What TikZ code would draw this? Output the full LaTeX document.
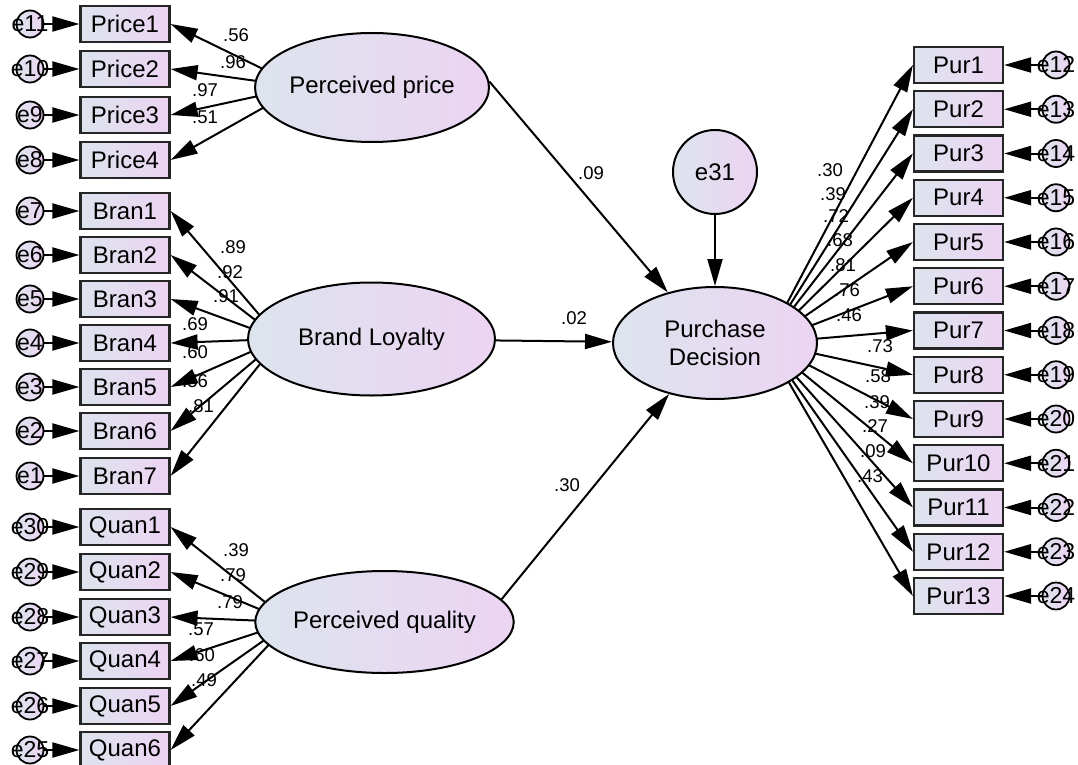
\documentclass[tikz,border=0pt]{standalone}
\usepackage{fontspec}
\setmainfont{Liberation Sans}
\usetikzlibrary{shapes.geometric,arrows.meta,backgrounds}
\definecolor{shL}{RGB}{221,228,237}
\definecolor{shR}{RGB}{236,212,243}
\begin{document}
\begin{tikzpicture}[x=1pt,y=-1pt,
  obs/.style={draw=black!85, line width=2.2pt, left color=shL, right color=shR, minimum width=89pt, minimum height=36pt, inner sep=0pt, font=\fontsize{24}{28}\selectfont},
  lat/.style={ellipse, draw=black, line width=2pt, left color=shL, right color=shR, inner sep=0pt, font=\fontsize{24}{28}\selectfont, align=center},
  err/.style={circle, draw=black, line width=1.8pt, left color=shL, right color=shR, minimum size=27pt, inner sep=0pt},
  errlab/.style={font=\fontsize{23}{25}\selectfont, inner sep=0pt},
  arr/.style={line width=2pt, -{Triangle[length=27pt,width=15pt]}},
  coef/.style={font=\fontsize{18.5}{20}\selectfont, inner sep=0pt},
]
\useasboundingbox (0,0) rectangle (1078,765);

% latent variables
\node[lat, minimum width=212pt, minimum height=109pt] (pp) at (372,87.5) {Perceived price};
\node[lat, minimum width=247pt, minimum height=113pt] (bl) at (371.5,339) {Brand Loyalty};
\node[lat, minimum width=243pt, minimum height=102pt] (pq) at (384.5,622) {Perceived quality};
\node[lat, minimum width=204pt, minimum height=112pt] (pd) at (715,343) {Purchase\\Decision};
\node[circle, draw=black, line width=2pt, left color=shL, right color=shR, minimum size=84pt, inner sep=0pt, font=\fontsize{24}{28}\selectfont] (e31) at (715,172) {e31};

\coordinate (ppF) at (300,87);
\coordinate (blF) at (280,339);
\coordinate (pqF) at (290,622);
\coordinate (pdF) at (766,343);

% observed variables and errors
\foreach \n/\y/\e in {1/24/11,2/69/10,3/115/9,4/160/8} {
  \node[obs] (price\n) at (125,\y) {Price\n};
  \node[err, label={[errlab]center:e\e}] (ep\n) at (30,\y) {};
  \draw[arr] (ep\n) -- (price\n.west);
}
\foreach \n/\y/\e in {1/211/7,2/255/6,3/299/5,4/343/4,5/387/3,6/431/2,7/476/1} {
  \node[obs] (bran\n) at (125,\y) {Bran\n};
  \node[err, label={[errlab]center:e\e}] (eb\n) at (30,\y) {};
  \draw[arr] (eb\n) -- (bran\n.west);
}
\foreach \n/\y/\e in {1/527/30,2/572/29,3/617/28,4/661/27,5/706/26,6/750/25} {
  \node[obs] (quan\n) at (125,\y) {Quan\n};
  \node[err, label={[errlab]center:e\e}] (eq\n) at (30,\y) {};
  \draw[arr] (eq\n) -- (quan\n.west);
}
\foreach \n/\e in {1/12,2/13,3/14,4/15,5/16,6/17,7/18,8/19,9/20,10/21,11/22,12/23,13/24} {
  \node[obs] (pur\n) at (958.5,{65+(\n-1)*44.25}) {Pur\n};
  \node[err, label={[errlab]center:e\e}] (er\n) at (1056,{65+(\n-1)*44.25}) {};
  \draw[arr] (er\n) -- (pur\n.east);
}

% loadings (behind the ellipses)
\begin{pgfonlayer}{background}
\foreach \n in {1,...,4} \draw[arr] (ppF) -- (price\n.east);
\foreach \n in {1,...,7} \draw[arr] (blF) -- (bran\n.east);
\foreach \n in {1,...,6} \draw[arr] (pqF) -- (quan\n.east);
\foreach \n in {1,...,13} \draw[arr] (pdF) -- (pur\n.west);
\end{pgfonlayer}

% structural paths
\draw[arr] (pp.3) -- (pd.133);
\draw[arr] (bl) -- (pd);
\draw[arr] (pq.11) -- (pd.228);
\draw[arr] (e31) -- (pd);

% coefficients
\foreach \t/\x/\y [count=\i] in {.56/236/35,.96/233/62,.97/205/90,.51/205/117,
  .89/233/247,.92/230/272,.91/226/296,.69/195/324,.60/195/352,.56/195/381,.81/201/406,
  .39/236/550,.79/233/575,.79/230/602,.57/201/629,.60/202/655,.49/204/680,
  .30/830/170,.39/833/194,.72/836/216,.68/840/240,.81/843/265,.76/847/290,.46/849/315,
  .73/880/346,.58/878/376,.39/877/402,.27/875/426,.09/873/451,.43/870/476,
  .09/591/173,.02/574/318,.30/567/485}
  \node[coef] (c\i) at (\x,\y) {\t};

\end{tikzpicture}
\end{document}
